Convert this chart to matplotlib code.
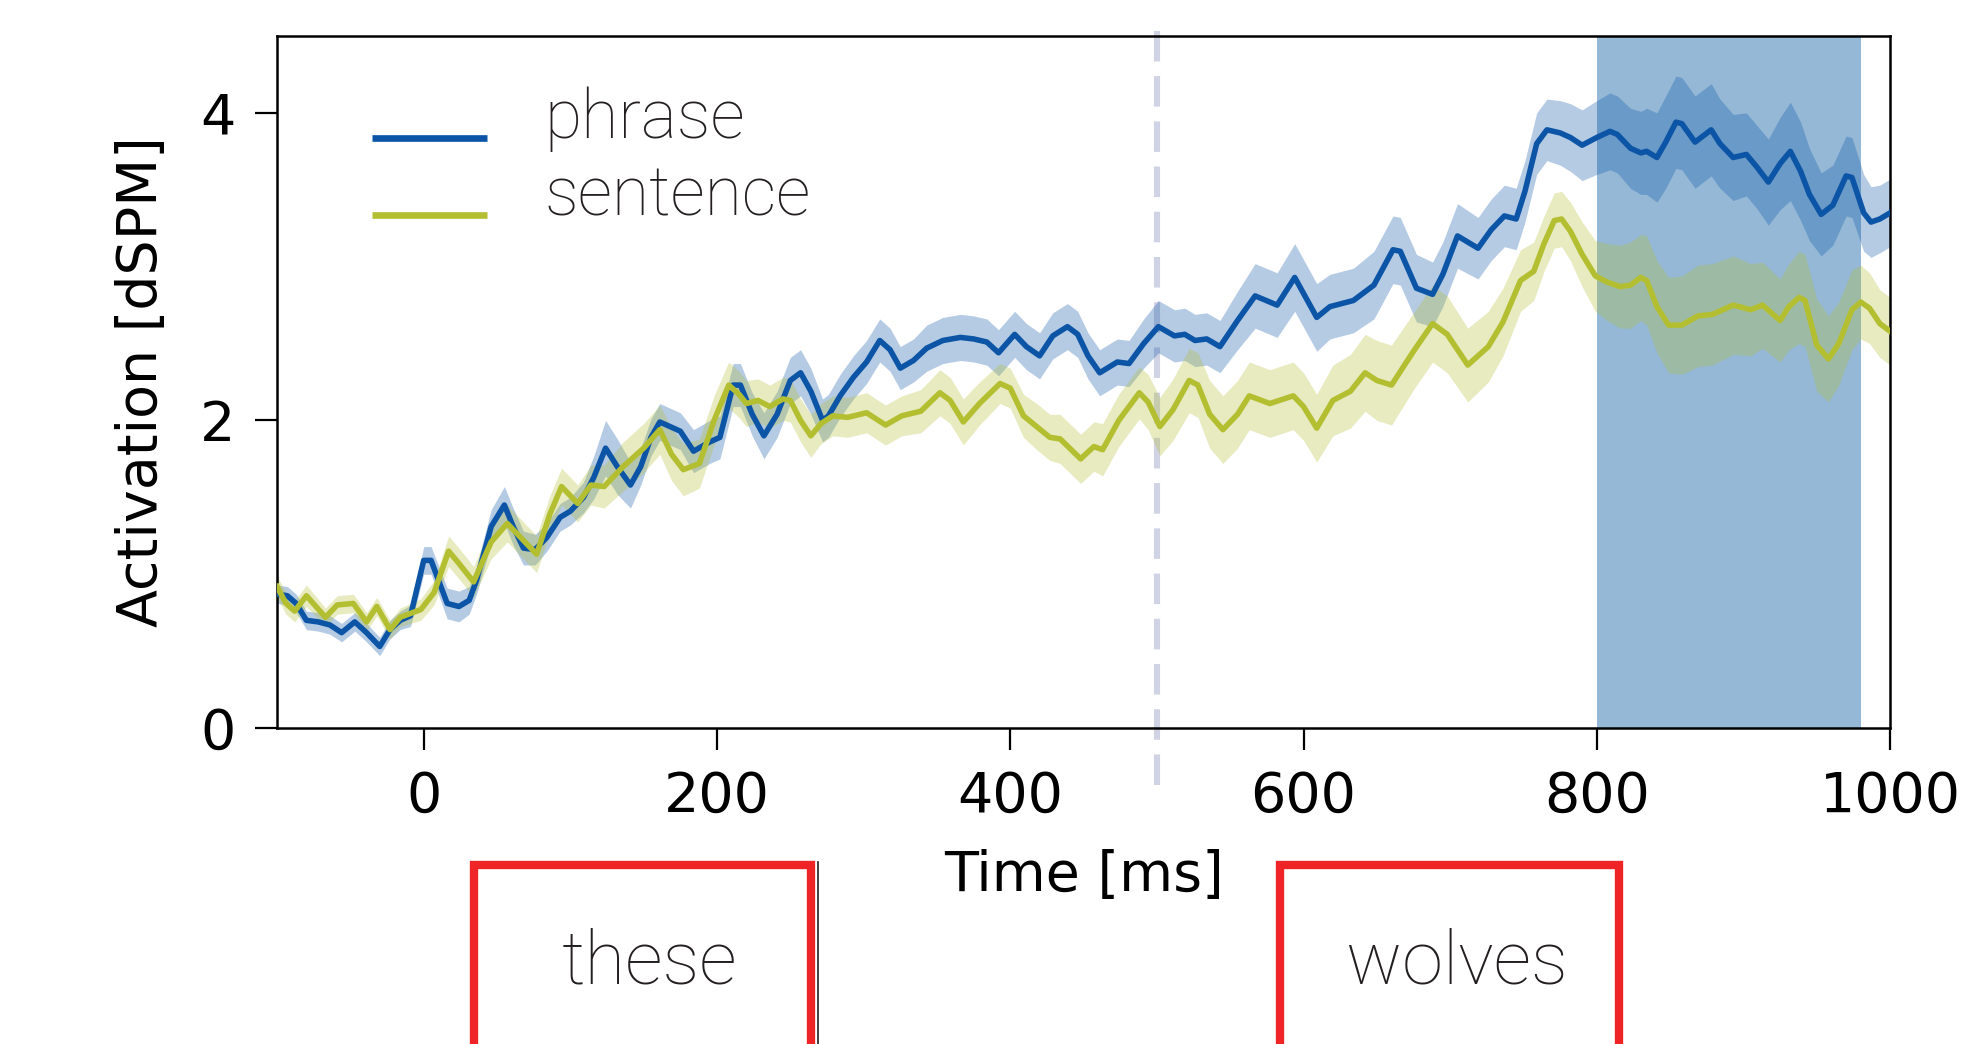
import numpy as np
import matplotlib
matplotlib.use("Agg")
import matplotlib.pyplot as plt
from matplotlib.patches import Rectangle
from matplotlib import transforms

OUT_FILE = "out.png"

# phrase condition: time (ms), mean activation (dSPM), half-width of shaded band
phrase_time = [-100, -93, -87, -80, -72, -64, -56, -47, -39, -30, -23, -16, -9, 0, 5,
               16, 24, 31, 36, 46, 55, 61, 68, 76, 84, 93, 100, 109, 116, 124, 132,
               141, 148, 155, 161, 175, 184, 195, 202, 211, 216, 224, 232, 241, 250,
               257, 264, 272, 276, 284, 293, 302, 311, 318, 325, 334, 343, 354, 366,
               375, 384, 392, 403, 411, 420, 429, 439, 446, 453, 461, 473, 481, 491,
               501, 512, 519, 526, 534, 543, 555, 567, 582, 594, 609, 618, 634, 648,
               661, 666, 677, 688, 695, 705, 719, 728, 737, 745, 751, 759, 766, 775,
               782, 790, 800, 809, 814, 823, 830, 834, 841, 847, 854, 858, 867, 878,
               884, 893, 902, 909, 917, 925, 932, 939, 945, 953, 961, 970, 974, 982,
               987, 993, 1000]
phrase_mean = [0.87, 0.86, 0.81, 0.70, 0.69, 0.67, 0.62, 0.69, 0.62, 0.53, 0.64, 0.70,
               0.73, 1.09, 1.09, 0.81, 0.79, 0.83, 0.96, 1.31, 1.45, 1.31, 1.17, 1.16,
               1.24, 1.37, 1.41, 1.50, 1.63, 1.82, 1.70, 1.58, 1.70, 1.89, 1.99, 1.93,
               1.80, 1.86, 1.89, 2.23, 2.23, 2.04, 1.90, 2.04, 2.26, 2.31, 2.19, 2.00,
               2.03, 2.16, 2.28, 2.38, 2.52, 2.46, 2.34, 2.39, 2.47, 2.52, 2.54, 2.53,
               2.51, 2.44, 2.56, 2.48, 2.42, 2.55, 2.61, 2.56, 2.42, 2.31, 2.38, 2.37,
               2.50, 2.61, 2.55, 2.56, 2.52, 2.53, 2.48, 2.65, 2.81, 2.75, 2.93, 2.67,
               2.74, 2.78, 2.88, 3.11, 3.10, 2.86, 2.82, 2.95, 3.20, 3.12, 3.24, 3.33,
               3.31, 3.49, 3.80, 3.89, 3.87, 3.84, 3.79, 3.84, 3.88, 3.86, 3.77, 3.74,
               3.75, 3.71, 3.81, 3.94, 3.93, 3.81, 3.89, 3.80, 3.71, 3.73, 3.65, 3.55,
               3.67, 3.75, 3.62, 3.47, 3.34, 3.40, 3.59, 3.58, 3.35, 3.29, 3.31, 3.35]
phrase_sem = [0.06, 0.06, 0.06, 0.06, 0.06, 0.06, 0.06, 0.06, 0.06, 0.06, 0.06, 0.06,
              0.07, 0.09, 0.09, 0.10, 0.10, 0.09, 0.09, 0.11, 0.12, 0.12, 0.11, 0.10,
              0.09, 0.09, 0.09, 0.10, 0.14, 0.18, 0.18, 0.15, 0.12, 0.12, 0.12, 0.12,
              0.14, 0.14, 0.14, 0.14, 0.14, 0.14, 0.15, 0.15, 0.15, 0.15, 0.15, 0.14,
              0.14, 0.14, 0.14, 0.14, 0.14, 0.14, 0.14, 0.14, 0.15, 0.15, 0.15, 0.15,
              0.15, 0.15, 0.15, 0.15, 0.15, 0.15, 0.15, 0.15, 0.15, 0.15, 0.15, 0.15,
              0.16, 0.17, 0.17, 0.17, 0.17, 0.17, 0.17, 0.19, 0.21, 0.21, 0.22, 0.22,
              0.21, 0.21, 0.22, 0.22, 0.22, 0.22, 0.21, 0.21, 0.21, 0.20, 0.20, 0.20,
              0.20, 0.20, 0.20, 0.20, 0.21, 0.22, 0.23, 0.24, 0.25, 0.25, 0.26, 0.27,
              0.28, 0.29, 0.30, 0.30, 0.30, 0.30, 0.30, 0.29, 0.28, 0.27, 0.27, 0.28,
              0.30, 0.32, 0.32, 0.30, 0.27, 0.26, 0.26, 0.26, 0.25, 0.23, 0.22, 0.22]

# sentence condition
sentence_time = [-100, -94, -88, -80, -67, -59, -48, -39, -32, -23, -16, -2, 7, 17, 24,
                 34, 46, 57, 68, 77, 86, 94, 105, 114, 123, 136, 150, 161, 169, 177,
                 188, 198, 208, 215, 220, 228, 236, 245, 250, 257, 264, 271, 279, 289,
                 302, 315, 326, 339, 352, 359, 368, 379, 393, 400, 409, 418, 427, 434,
                 448, 457, 463, 474, 488, 494, 502, 511, 522, 528, 536, 545, 555, 563,
                 577, 593, 600, 609, 620, 632, 642, 650, 660, 675, 688, 698, 712, 726,
                 736, 748, 757, 764, 771, 776, 782, 790, 799, 807, 816, 823, 830, 834,
                 841, 849, 858, 869, 879, 893, 905, 913, 925, 931, 938, 942, 950, 958,
                 965, 974, 980, 986, 993, 1000]
sentence_mean = [0.92, 0.81, 0.76, 0.86, 0.72, 0.80, 0.81, 0.69, 0.79, 0.64, 0.72, 0.77,
                 0.88, 1.15, 1.07, 0.95, 1.21, 1.33, 1.22, 1.13, 1.39, 1.57, 1.46, 1.58,
                 1.57, 1.70, 1.82, 1.94, 1.78, 1.68, 1.72, 2.00, 2.23, 2.17, 2.11, 2.13,
                 2.09, 2.14, 2.13, 2.00, 1.90, 1.98, 2.03, 2.02, 2.05, 1.97, 2.03, 2.06,
                 2.18, 2.13, 1.99, 2.11, 2.24, 2.21, 2.03, 1.96, 1.89, 1.88, 1.75, 1.83,
                 1.81, 2.00, 2.18, 2.12, 1.96, 2.07, 2.26, 2.23, 2.04, 1.94, 2.04, 2.16,
                 2.11, 2.16, 2.09, 1.95, 2.13, 2.19, 2.31, 2.26, 2.23, 2.45, 2.63, 2.56,
                 2.36, 2.48, 2.64, 2.91, 2.97, 3.15, 3.30, 3.31, 3.23, 3.08, 2.94, 2.90,
                 2.87, 2.88, 2.93, 2.91, 2.74, 2.62, 2.62, 2.68, 2.69, 2.75, 2.72, 2.75,
                 2.65, 2.74, 2.80, 2.78, 2.49, 2.40, 2.50, 2.72, 2.77, 2.73, 2.63, 2.58]
sentence_sem = [0.07, 0.07, 0.07, 0.07, 0.06, 0.06, 0.06, 0.06, 0.06, 0.06, 0.06, 0.07,
                0.08, 0.10, 0.10, 0.10, 0.11, 0.12, 0.12, 0.12, 0.12, 0.12, 0.12, 0.13,
                0.14, 0.16, 0.16, 0.16, 0.17, 0.17, 0.16, 0.16, 0.15, 0.15, 0.15, 0.14,
                0.14, 0.14, 0.14, 0.14, 0.14, 0.13, 0.13, 0.13, 0.13, 0.13, 0.13, 0.14,
                0.15, 0.15, 0.15, 0.14, 0.13, 0.13, 0.14, 0.15, 0.15, 0.16, 0.16, 0.16,
                0.17, 0.17, 0.17, 0.18, 0.19, 0.20, 0.21, 0.21, 0.22, 0.22, 0.22, 0.22,
                0.22, 0.22, 0.22, 0.22, 0.23, 0.24, 0.25, 0.26, 0.26, 0.25, 0.25, 0.25,
                0.24, 0.23, 0.22, 0.20, 0.19, 0.18, 0.18, 0.18, 0.19, 0.21, 0.23, 0.25,
                0.27, 0.28, 0.28, 0.29, 0.30, 0.31, 0.32, 0.33, 0.33, 0.32, 0.30, 0.28,
                0.27, 0.28, 0.30, 0.30, 0.30, 0.28, 0.27, 0.26, 0.24, 0.23, 0.22, 0.22]

series_labels = ["phrase", "sentence"]
COLORS = {"phrase": "#0c55a6", "sentence": "#b3bf31"}

# significant cluster window and second-word onset (ms)
cluster_window = (800, 980)
word2_onset = 500

# word boxes under the x axis (ms)
word_labels = ["these", "wolves"]
word_box_start = [34, 584]
word_box_end = [264, 815]

x_ticks = [0, 200, 400, 600, 800, 1000]
y_ticks = [0, 2, 4]

fig = plt.figure(figsize=(9.84, 5.22), dpi=200)
ax = fig.add_axes([0.1408, 0.3027, 0.8196, 0.6628])

ax.axvspan(*cluster_window, color="#94b8d6", lw=0, zorder=0)
ax.axvline(word2_onset, ymin=-0.083, ymax=1.025, color="#d0d3e4", lw=2.2,
           ls=(0, (5, 2.4)), clip_on=False, zorder=1)

data = {
    "phrase": (phrase_time, phrase_mean, phrase_sem),
    "sentence": (sentence_time, sentence_mean, sentence_sem),
}
for name in series_labels:
    t, m, s = (np.asarray(a, dtype=float) for a in data[name])
    ax.fill_between(t, m - s, m + s, color=COLORS[name], alpha=0.3, lw=0, zorder=2)
for name in series_labels:
    t, m, s = data[name]
    ax.plot(t, m, color=COLORS[name], lw=2.0, zorder=3)

ax.set_xlim(-100, 1000)
ax.set_ylim(0, 4.5)
ax.set_xticks(x_ticks)
ax.set_yticks(y_ticks)
ax.tick_params(direction="out", length=8, width=0.8, labelsize=20, pad=7,
               top=False, right=False)
for sp in ax.spines.values():
    sp.set_linewidth(0.9)
ax.set_xlabel("Time [ms]", fontsize=20, labelpad=9)
ax.set_ylabel("Activation [dSPM]", fontsize=20, labelpad=11)

# legend: short line with the label on the same baseline
leg_font = dict(family="Roboto", weight="light", size=24.4)
for i, name in enumerate(series_labels):
    y = 0.853 - i * 0.112
    ax.plot([0.059, 0.13], [y, y], transform=ax.transAxes, color=COLORS[name],
            lw=2.4, solid_capstyle="butt", clip_on=False)
    ax.text(0.166, y, name, transform=ax.transAxes, va="baseline", ha="left",
            color="#231f20", **leg_font)

# word boxes
trans = transforms.blended_transform_factory(ax.transData, fig.transFigure)
for label, x0, x1 in zip(word_labels, word_box_start, word_box_end):
    ax.add_patch(Rectangle((x0, -0.1), x1 - x0, 0.271, transform=trans,
                           fill=False, ec="#ee2427", lw=3, clip_on=False,
                           joinstyle="miter"))
    ax.text((x0 + x1) / 2 + 5, 0.0575, label, transform=trans, ha="center",
            va="baseline", color="#231f20", family="Roboto", weight="light",
            size=26.7)
# thin dark edge left over next to the first box
ax.plot([word_box_end[0] + 5, word_box_end[0] + 5], [-0.1, 0.174], transform=trans,
        color="#231f20", lw=0.6, clip_on=False)

fig.savefig(OUT_FILE, dpi=200)
